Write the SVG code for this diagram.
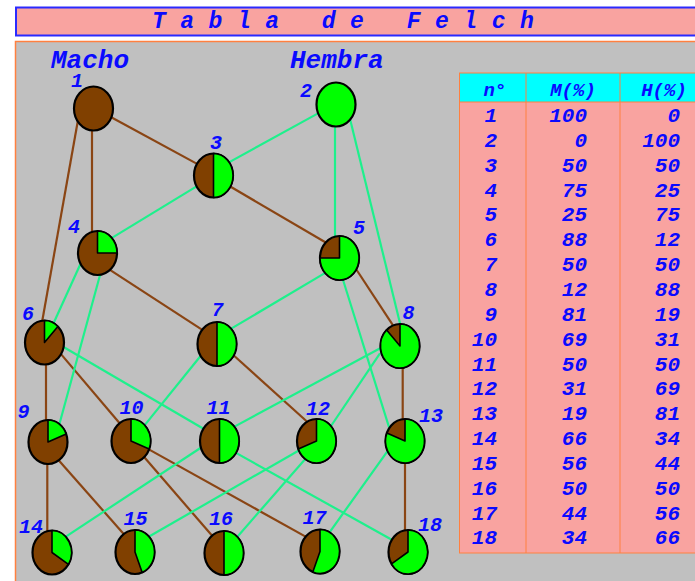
<svg xmlns="http://www.w3.org/2000/svg" width="695" height="581" viewBox="0 0 695 581">
<style>
.t{font-family:"Liberation Mono","DejaVu Sans Mono",monospace;font-weight:bold;font-style:italic;fill:#0a0aff}
.lab{font-size:20px;text-anchor:middle}
.cell{font-size:21px;text-anchor:end}
.hd{font-size:19px;text-anchor:middle}
.b{stroke:#8a4514;stroke-width:2.2;fill:none}
.g{stroke:#1ef08c;stroke-width:2.2;fill:none}
.nd{fill:#804000;stroke:#000;stroke-width:2.2}
.gr{fill:#00ff00;stroke:#000;stroke-width:2.2}
.w{fill:#00ff00;stroke:#000;stroke-width:1.6;stroke-linejoin:round}
.grid{stroke:#ff8040;stroke-width:1;fill:none}
</style>
<rect x="0" y="0" width="695" height="581" fill="#ffffff"/>
<rect x="15.5" y="41.5" width="690" height="560" fill="#c0c0c0" stroke="#ff8040" stroke-width="1.5"/>
<g id="title">
<rect x="16" y="7.5" width="690" height="28" fill="#f9a3a0" stroke="#2a2aff" stroke-width="2"/>
<text class="t" x="152" y="28" font-size="23" letter-spacing="14.5">Tabla de Felch</text>
</g>
<text class="t" x="51" y="68" font-size="26">Macho</text>
<text class="t" x="290" y="68" font-size="26">Hembra</text>
<g id="connectors">
<line class="b" x1="108" y1="115.5" x2="200.3" y2="165.6"/>
<line class="b" x1="92" y1="125" x2="92" y2="236"/>
<line class="b" x1="78" y1="120" x2="41" y2="328"/>
<line class="b" x1="228.1" y1="185.3" x2="327.9" y2="243.7"/>
<line class="b" x1="108" y1="268.6" x2="205" y2="331.6"/>
<line class="b" x1="353.4" y1="265" x2="395" y2="328.3"/>
<line class="b" x1="46" y1="360" x2="46" y2="425"/>
<line class="b" x1="57.8" y1="350.4" x2="122.2" y2="426.3"/>
<line class="b" x1="228.8" y1="351" x2="310.5" y2="424.7"/>
<line class="b" x1="402.7" y1="362" x2="402.7" y2="425"/>
<line class="b" x1="47.3" y1="458" x2="47.3" y2="535"/>
<line class="b" x1="56" y1="457.2" x2="125.7" y2="536.2"/>
<line class="b" x1="142.8" y1="455.5" x2="213.9" y2="537.8"/>
<line class="b" x1="144.8" y1="447.1" x2="309.2" y2="538.6"/>
<line class="b" x1="405" y1="458" x2="405" y2="535"/>
<line class="g" x1="320.3" y1="112.1" x2="228" y2="162.9"/>
<line class="g" x1="335" y1="120" x2="335" y2="242"/>
<line class="g" x1="349.3" y1="115.9" x2="401.4" y2="329.1"/>
<line class="g" x1="201.1" y1="183.6" x2="109.9" y2="239.1"/>
<line class="g" x1="82.5" y1="259.5" x2="52.5" y2="325.5"/>
<line class="g" x1="101.6" y1="269.2" x2="58.4" y2="427.8"/>
<line class="g" x1="326.9" y1="271.9" x2="226.5" y2="331.4"/>
<line class="g" x1="341.5" y1="275" x2="389.1" y2="427.4"/>
<line class="g" x1="58.8" y1="344.3" x2="205.2" y2="429.7"/>
<line class="g" x1="203.8" y1="352" x2="142.9" y2="427.4"/>
<line class="g" x1="385.3" y1="345.5" x2="228" y2="430.1"/>
<line class="g" x1="380" y1="353.3" x2="328.3" y2="430"/>
<line class="g" x1="205" y1="445" x2="61.7" y2="539.3"/>
<line class="g" x1="231.5" y1="450.4" x2="394.5" y2="541.2"/>
<line class="g" x1="301.9" y1="448.7" x2="146.5" y2="538"/>
<line class="g" x1="309" y1="454.8" x2="237.8" y2="536.2"/>
<line class="g" x1="389.5" y1="448.4" x2="326.5" y2="536.6"/>
</g>
<g id="n1"><ellipse class="nd" cx="93.5" cy="108.5" rx="19.5" ry="22"/><text class="t lab" x="77" y="87">1</text></g>
<g id="n2"><ellipse class="gr" cx="336" cy="104.5" rx="19.5" ry="22"/><text class="t lab" x="306" y="97">2</text></g>
<g id="n3"><ellipse class="nd" cx="213.5" cy="175.5" rx="19.5" ry="22"/><path class="w" d="M213.5 175.5 L213.5 153.5 A19.5 22 0 0 1 213.5 197.5 Z"/><text class="t lab" x="216" y="149">3</text></g>
<g id="n4"><ellipse class="nd" cx="97.5" cy="253" rx="19.5" ry="22"/><path class="w" d="M97.5 253 L97.5 231 A19.5 22 0 0 1 117 253 Z"/><text class="t lab" x="74" y="233">4</text></g>
<g id="n5"><ellipse class="nd" cx="339.5" cy="258" rx="19.5" ry="22"/><path class="w" d="M339.5 258 L339.5 236 A19.5 22 0 1 1 320 258 Z"/><text class="t lab" x="359" y="234">5</text></g>
<g id="n6"><ellipse class="nd" cx="44.5" cy="342.5" rx="19.5" ry="22"/><path class="w" d="M44.5 342.5 L44.5 320.5 A19.5 22 0 0 1 57.86 326.46 Z"/><text class="t lab" x="28" y="320">6</text></g>
<g id="n7"><ellipse class="nd" cx="217" cy="344" rx="19.5" ry="22"/><path class="w" d="M217 344 L217 322 A19.5 22 0 0 1 217 366 Z"/><text class="t lab" x="217.5" y="316">7</text></g>
<g id="n8"><ellipse class="nd" cx="400" cy="346" rx="19.5" ry="22"/><path class="w" d="M400 346 L400 324 A19.5 22 0 1 1 386.64 329.96 Z"/><text class="t lab" x="408.5" y="319">8</text></g>
<g id="n9"><ellipse class="nd" cx="48" cy="442" rx="19.5" ry="22"/><path class="w" d="M48 442 L48 420 A19.5 22 0 0 1 66.13 433.9 Z"/><text class="t lab" x="23.5" y="418">9</text></g>
<g id="n10"><ellipse class="nd" cx="131" cy="441" rx="19.5" ry="22"/><path class="w" d="M131 441 L131 419 A19.5 22 0 0 1 149.13 449.1 Z"/><text class="t lab" x="131.5" y="414">10</text></g>
<g id="n11"><ellipse class="nd" cx="219.5" cy="441" rx="19.5" ry="22"/><path class="w" d="M219.5 441 L219.5 419 A19.5 22 0 0 1 219.5 463 Z"/><text class="t lab" x="218.5" y="414">11</text></g>
<g id="n12"><ellipse class="nd" cx="316.5" cy="441" rx="19.5" ry="22"/><path class="w" d="M316.5 441 L316.5 419 A19.5 22 0 1 1 298.37 449.1 Z"/><text class="t lab" x="318" y="415">12</text></g>
<g id="n13"><ellipse class="nd" cx="405" cy="441" rx="19.5" ry="22"/><path class="w" d="M405 441 L405 419 A19.5 22 0 1 1 386.87 432.9 Z"/><text class="t lab" x="431" y="422">13</text></g>
<g id="n14"><ellipse class="nd" cx="52" cy="552.5" rx="19.5" ry="22"/><path class="w" d="M52 552.5 L52 530.5 A19.5 22 0 0 1 68.46 564.29 Z"/><text class="t lab" x="31" y="533">14</text></g>
<g id="n15"><ellipse class="nd" cx="135" cy="552" rx="19.5" ry="22"/><path class="w" d="M135 552 L135 530 A19.5 22 0 0 1 142.18 572.46 Z"/><text class="t lab" x="135.5" y="525">15</text></g>
<g id="n16"><ellipse class="nd" cx="224" cy="553" rx="19.5" ry="22"/><path class="w" d="M224 553 L224 531 A19.5 22 0 0 1 224 575 Z"/><text class="t lab" x="221" y="525">16</text></g>
<g id="n17"><ellipse class="nd" cx="320" cy="551.5" rx="19.5" ry="22"/><path class="w" d="M320 551.5 L320 529.5 A19.5 22 0 1 1 312.82 571.96 Z"/><text class="t lab" x="314.5" y="524">17</text></g>
<g id="n18"><ellipse class="nd" cx="408" cy="552" rx="19.5" ry="22"/><path class="w" d="M408 552 L408 530 A19.5 22 0 1 1 391.54 563.79 Z"/><text class="t lab" x="430" y="531">18</text></g>
<g id="table">
<rect x="459.5" y="102" width="250" height="451" fill="#f9a3a0"/>
<rect x="459.5" y="73" width="250" height="29" fill="#00ffff"/>
<rect class="grid" x="459.5" y="73" width="250" height="480"/>
<line class="grid" x1="459.5" y1="102" x2="700" y2="102"/>
<line class="grid" x1="526" y1="73" x2="526" y2="553"/>
<line class="grid" x1="620" y1="73" x2="620" y2="553"/>
<text class="t hd" x="495" y="96">n°</text>
<text class="t hd" x="573" y="96">M(%)</text>
<text class="t hd" x="664" y="96">H(%)</text>
<g class="t cell">
<text x="497" y="122">1</text><text x="587" y="122">100</text><text x="680" y="122">0</text>
<text x="497" y="147">2</text><text x="587" y="147">0</text><text x="680" y="147">100</text>
<text x="497" y="172">3</text><text x="587" y="172">50</text><text x="680" y="172">50</text>
<text x="497" y="197">4</text><text x="587" y="197">75</text><text x="680" y="197">25</text>
<text x="497" y="221">5</text><text x="587" y="221">25</text><text x="680" y="221">75</text>
<text x="497" y="246">6</text><text x="587" y="246">88</text><text x="680" y="246">12</text>
<text x="497" y="271">7</text><text x="587" y="271">50</text><text x="680" y="271">50</text>
<text x="497" y="296">8</text><text x="587" y="296">12</text><text x="680" y="296">88</text>
<text x="497" y="321">9</text><text x="587" y="321">81</text><text x="680" y="321">19</text>
<text x="497" y="346">10</text><text x="587" y="346">69</text><text x="680" y="346">31</text>
<text x="497" y="371">11</text><text x="587" y="371">50</text><text x="680" y="371">50</text>
<text x="497" y="395">12</text><text x="587" y="395">31</text><text x="680" y="395">69</text>
<text x="497" y="420">13</text><text x="587" y="420">19</text><text x="680" y="420">81</text>
<text x="497" y="445">14</text><text x="587" y="445">66</text><text x="680" y="445">34</text>
<text x="497" y="470">15</text><text x="587" y="470">56</text><text x="680" y="470">44</text>
<text x="497" y="495">16</text><text x="587" y="495">50</text><text x="680" y="495">50</text>
<text x="497" y="520">17</text><text x="587" y="520">44</text><text x="680" y="520">56</text>
<text x="497" y="544">18</text><text x="587" y="544">34</text><text x="680" y="544">66</text>
</g>
</g>
</svg>
